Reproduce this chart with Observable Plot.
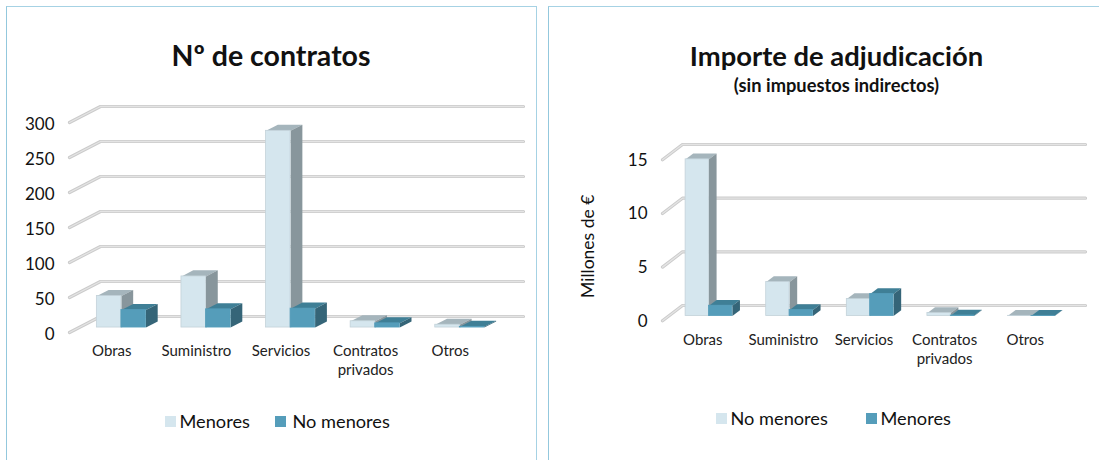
<!DOCTYPE html>
<html lang="es">
<head>
<meta charset="utf-8">
<script src="https://cdn.jsdelivr.net/npm/d3@7"></script>
<script src="https://cdn.jsdelivr.net/npm/@observablehq/plot@0.6"></script>
<style>
html,body{margin:0;padding:0;background:#fff;overflow:hidden;width:1099px;height:460px;font-family:Lato,sans-serif;color:#111}
.panel{position:absolute;top:6px;box-sizing:border-box;border-top:1.5px solid #a6d2e4;border-left:1.5px solid #93c8dd;height:470px}
#p1{left:6px;width:531px;border-right:1.5px solid #a6d2e4}
#p2{left:548px;width:560px}
.chart{position:absolute}
.title{position:absolute;font-weight:700;white-space:nowrap;transform:translate(-50%,-50%);line-height:1}
.leg{position:absolute;white-space:nowrap;font-size:18.2px;line-height:1;transform:translateY(-50%)}
.sw{position:absolute;width:11px;height:11px}
svg{overflow:visible}
</style>
</head>
<body>
<div id="page"></div>
<script>
const categories = ["Obras", "Suministro", "Servicios", "Contratos\nprivados", "Otros"];

const contratosMenores = [45, 73, 281, 9, 4];
const contratosNoMenores = [25, 26, 27, 6, 1];
const contratosTicks = [0, 50, 100, 150, 200, 250, 300];

const importeNoMenores = [14.6, 3.17, 1.58, 0.28, 0.02];
const importeMenores = [0.96, 0.56, 2.05, 0.05, 0.02];
const importeTicks = [0, 5, 10, 15];

const lightFaces = {front: "#d5e6ee", top: "#a5b5bc", side: "#88969c", edge: "#c3d2d9"};
const tealFaces = {front: "#559dba", top: "#3f7f96", side: "#356578", edge: "#559dba"};

// Share of a category band and of the floor depth taken by a bar
const barStart = 0.21, barWidth = 0.29, depthFront = 0.31, depthBack = 0.69;

function faces(values, seriesIndex, dxU, dyU) {
  const x0 = seriesIndex * barWidth + barStart, x1 = x0 + barWidth;
  const pt = (i, id, fx, v, d) => ({id, x: i + fx + d * dxU, y: v + d * dyU});
  const top = [], side = [], front = [];
  values.forEach((v, i) => {
    top.push(pt(i, i, x0, v, depthFront), pt(i, i, x1, v, depthFront), pt(i, i, x1, v, depthBack), pt(i, i, x0, v, depthBack));
    side.push(pt(i, i, x1, 0, depthFront), pt(i, i, x1, v, depthFront), pt(i, i, x1, v, depthBack), pt(i, i, x1, 0, depthBack));
    front.push({x1: i + x0 + depthFront * dxU, x2: i + x1 + depthFront * dxU, y1: depthFront * dyU, y2: v + depthFront * dyU});
  });
  return {top, side, front};
}

function seriesMarks(values, seriesIndex, colors, dxU, dyU) {
  const f = faces(values, seriesIndex, dxU, dyU);
  return [
    Plot.line(f.top, {x: "x", y: "y", z: "id", fill: colors.top, stroke: "none"}),
    Plot.line(f.side, {x: "x", y: "y", z: "id", fill: colors.side, stroke: "none"}),
    Plot.rect(f.front, {x1: "x1", x2: "x2", y1: "y1", y2: "y2", fill: colors.front, stroke: colors.edge, strokeWidth: 0.8})
  ];
}

function chart(cfg) {
  const grid = cfg.ticks.flatMap((t) => [
    {id: t, x: 0, y: t},
    {id: t, x: cfg.dxU, y: t + cfg.dyU},
    {id: t, x: categories.length + cfg.dxU, y: t + cfg.dyU}
  ]);
  return Plot.plot({
    width: cfg.width, height: cfg.height,
    marginLeft: cfg.ml, marginRight: cfg.mr, marginTop: cfg.mt, marginBottom: cfg.mb,
    style: {fontFamily: "Lato, sans-serif", background: "transparent", overflow: "visible"},
    x: {domain: [0, categories.length]},
    y: {domain: cfg.domain},
    marks: [
      Plot.line(grid, {x: "x", y: "y", z: "id", stroke: "#cbcbcb", strokeWidth: 3.2, strokeLinecap: "round", strokeLinejoin: "round"}),
      Plot.line(grid, {x: "x", y: "y", z: "id", stroke: "#e4e4e4", strokeWidth: 1.3, strokeLinecap: "round", strokeLinejoin: "round"}),
      Plot.axisY({
        ticks: cfg.ticks, tickSize: 0, tickPadding: cfg.yPad, fontSize: 17, fill: "#111", dy: cfg.yDy, label: null
      }),
      cfg.yLabel ? Plot.text([cfg.yLabel], {
        text: (d) => d, frameAnchor: "left", textAnchor: "middle", rotate: -90, dx: cfg.labelDx, dy: 6, fontSize: 17.5, fill: "#111"
      }) : null,
      Plot.axisX({
        ticks: categories.map((_, i) => i + 0.5),
        tickFormat: (d) => categories[d - 0.5],
        tickSize: 0, tickPadding: cfg.xPad, fontSize: 15, lineHeight: 1.27, fill: "#222", label: null
      }),
      ...seriesMarks(cfg.first, 0, lightFaces, cfg.dxU, cfg.dyU),
      ...seriesMarks(cfg.second, 1, tealFaces, cfg.dxU, cfg.dyU)
    ]
  });
}

function place(parent, html, cls, left, top, size) {
  const el = document.createElement("div");
  el.className = cls;
  el.style.left = left + "px";
  el.style.top = top + "px";
  if (size) el.style.fontSize = size + "px";
  el.textContent = html;
  parent.appendChild(el);
  return el;
}
function swatch(parent, color, left, top) {
  const el = place(parent, "", "sw", left, top);
  el.style.background = color;
}

const page = document.getElementById("page");
function panel(id) {
  const p = document.createElement("div");
  p.className = "panel"; p.id = id;
  page.appendChild(p);
  return p;
}
function addChart(p, plot, left, top) {
  plot.classList.add("chart");
  plot.style.position = "absolute";
  plot.style.left = left + "px";
  plot.style.top = top + "px";
  p.appendChild(plot);
}

// Panel offsets: panel content origin sits at (7.5, 7.5) and (549.5, 7.5)
const p1 = panel("p1");
place(p1, "Nº de contratos", "title", 264, 48, 28.5);
addChart(p1, chart({
  width: 529, height: 290, ml: 62, mr: 44, mt: 27, mb: 53,
  domain: [0, 300], ticks: contratosTicks,
  dxU: 0.366, dyU: 22.86, yPad: 15, xPad: 10, yDy: 2,
  yLabel: null, first: contratosMenores, second: contratosNoMenores
}), -0.5, 87.5);
swatch(p1, lightFaces.front, 157.5, 408.5);
place(p1, "Menores", "leg", 172.5, 413.5);
swatch(p1, tealFaces.front, 268, 408.5);
place(p1, "No menores", "leg", 285.5, 413.5);

const p2 = panel("p2");
place(p2, "Importe de adjudicación", "title", 287.5, 49, 27.4);
place(p2, "(sin impuestos indirectos)", "title", 287.5, 77.5, 18.3);
addChart(p2, chart({
  width: 550, height: 250, ml: 113, mr: 34, mt: 29.3, mb: 59.7,
  domain: [0, 15], ticks: importeTicks,
  dxU: 0.248, dyU: 1.426, yPad: 15, xPad: 11, yDy: 0.5,
  yLabel: "Millones de €", labelDx: -74,
  first: importeNoMenores, second: importeMenores
}), -0.5, 122.5);
swatch(p2, lightFaces.front, 166.5, 406);
place(p2, "No menores", "leg", 181.5, 410.5);
swatch(p2, tealFaces.front, 316.5, 406);
place(p2, "Menores", "leg", 331.5, 410.5);
</script>
</body>
</html>
